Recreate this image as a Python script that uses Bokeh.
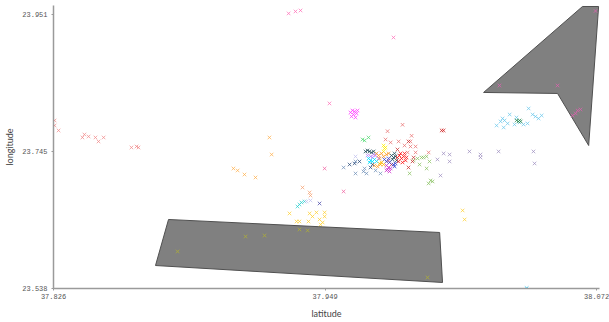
from bokeh.plotting import figure
from bokeh.models import Range1d, FixedTicker, NumeralTickFormatter
from bokeh.embed import file_html
from bokeh.resources import INLINE

# axis ticks
x_ticks = [37.826, 37.949, 38.072]
y_ticks = [23.538, 23.745, 23.951]

# shaded zones (latitude, longitude)
zone1_x = [37.8781, 38.0009, 38.0022, 37.8722]
zone1_y = [23.6422, 23.6226, 23.5471, 23.5727]
zone2_x = [38.0656, 38.0729, 38.0684, 38.0543, 38.0208]
zone2_y = [23.9638, 23.9638, 23.7539, 23.8325, 23.8340]

# point groups
salmon_x = [37.8265, 37.8265, 37.8283, 37.8391, 37.8400, 37.8419, 37.8450, 37.8464, 37.8487, 37.8613, 37.8636, 37.8645]
salmon_y = [23.7917, 23.7841, 23.7766, 23.7660, 23.7705, 23.7675, 23.7660, 23.7600, 23.7660, 23.7509, 23.7524, 23.7509]

orange_x = [37.9238, 37.9248, 37.9075, 37.9094, 37.9125, 37.9175]
orange_y = [23.7660, 23.7403, 23.7192, 23.7162, 23.7101, 23.7056]

peach_x = [37.9388, 37.9420, 37.9424]
peach_y = [23.6905, 23.6830, 23.6784]

pink_x = [37.9325, 37.9356, 37.9379, 37.9800, 37.9510]
pink_y = [23.9533, 23.9563, 23.9578, 23.9170, 23.8174]

magenta_x = [37.9605, 37.9614, 37.9624, 37.9633, 37.9610, 37.9628, 37.9619, 37.9637]
magenta_y = [23.8038, 23.8068, 23.8053, 23.8023, 23.7977, 23.7962, 23.8007, 23.8068]

orchid_x = [38.0715, 38.0280, 38.0543, 38.0611, 38.0625, 38.0634, 38.0647]
orchid_y = [23.9570, 23.8445, 23.8445, 23.7992, 23.8023, 23.8068, 23.8083]

sky_x = [38.0412, 38.0430, 38.0443, 38.0457, 38.0471, 38.0326, 38.0294, 38.0267, 38.0285,
         38.0303, 38.0317, 38.0348, 38.0371, 38.0389, 38.0407, 38.0299, 38.0357]
sky_y = [23.8098, 23.8007, 23.7977, 23.7947, 23.7992, 23.8007, 23.7947, 23.7841, 23.7902,
         23.7917, 23.7872, 23.7856, 23.7887, 23.7856, 23.7872, 23.7811, 23.7962]

deepsky_x = [38.0403]
deepsky_y = [23.5385]

green_x = [38.0357, 38.0366, 38.0376, 38.0371]
green_y = [23.7917, 23.7902, 23.7902, 23.7917]

darkred_x = [38.0018, 38.0027]
darkred_y = [23.7766, 23.7766]

lavgray_x = [38.0027, 38.0054, 38.0054, 37.9999, 38.0144, 38.0194, 38.0194, 38.0276, 38.0434, 38.0439, 38.0013]
lavgray_y = [23.7419, 23.7403, 23.7298, 23.7328, 23.7449, 23.7403, 23.7358, 23.7449, 23.7449, 23.7268, 23.7086]

lgreen_x = [37.9927, 37.9936, 37.9950, 37.9909, 37.9891, 37.9963, 37.9950, 37.9918, 37.9873, 37.9968, 37.9959, 37.9977]
lgreen_y = [23.7358, 23.7358, 23.7373, 23.7343, 23.7313, 23.7298, 23.7192, 23.7252, 23.7117, 23.7011, 23.6966, 23.6996]

mint_x = [37.9660, 37.9669, 37.9687]
mint_y = [23.7630, 23.7615, 23.7660]

yellow_x = [37.9755, 37.9759, 37.9755, 37.9764]
yellow_y = [23.7539, 23.7494, 23.7449, 23.7509]

gold_x = [37.9329, 37.9361, 37.9374, 37.9415, 37.9420, 37.9433, 37.9451, 37.9465, 37.9470,
          37.9479, 37.9488, 37.9488, 38.0113, 38.0122]
gold_y = [23.6513, 23.6392, 23.6392, 23.6392, 23.6513, 23.6467, 23.6528, 23.6422, 23.6346,
          23.6377, 23.6467, 23.6528, 23.6558, 23.6422]

olive_x = [37.8822, 37.9130, 37.9216, 37.9374, 37.9411, 37.9954]
olive_y = [23.5939, 23.6165, 23.6180, 23.6271, 23.6256, 23.5546]

turq_x = [37.9374, 37.9383, 37.9397, 37.9365]
turq_y = [23.6648, 23.6679, 23.6694, 23.6618]

palelav_x = [37.9406, 37.9424, 37.9628]
palelav_y = [23.6694, 23.6709, 23.7373]

slate_x = [37.9465]
slate_y = [23.6664]

hotpink_x = [37.9574, 37.9488]
hotpink_y = [23.6845, 23.7192]

navy_x = [37.9601, 37.9624, 37.9646, 37.9705, 37.9696]
navy_y = [23.7252, 23.7268, 23.7298, 23.7252, 23.7207]

steel_x = [37.9574, 37.9628, 37.9664, 37.9678, 37.9741, 37.9669, 37.9719, 37.9628]
steel_y = [23.7207, 23.7117, 23.7147, 23.7117, 23.7117, 23.7192, 23.7162, 23.7298]

dslate_x = [37.9673, 37.9682, 37.9691, 37.9701, 37.9710, 37.9791, 37.9800, 37.9809, 37.9796, 37.9814, 37.9805]
dslate_y = [23.7449, 23.7464, 23.7449, 23.7434, 23.7449, 23.7388, 23.7358, 23.7373, 23.7328, 23.7313, 23.7419]

red_x = [37.9818, 37.9827, 37.9836, 37.9846, 37.9855, 37.9823, 37.9841, 37.9832, 37.9850, 37.9859]
red_y = [23.7358, 23.7388, 23.7343, 23.7373, 23.7313, 23.7298, 23.7283, 23.7419, 23.7419, 23.7358]

lred_x = [37.9841, 37.9773, 37.9882, 37.9823, 37.9877, 37.9787, 37.9850, 37.9900, 37.9864,
          37.9900, 37.9959, 37.9778, 37.9877, 37.9764]
lred_y = [23.7852, 23.7755, 23.7686, 23.7600, 23.7600, 23.7585, 23.7539, 23.7524, 23.7434,
          23.7434, 23.7434, 23.7313, 23.7524, 23.7630]

mred_x = [37.9868, 37.9891, 37.9886, 37.9868, 37.9791, 37.9818]
mred_y = [23.7600, 23.7358, 23.7298, 23.7207, 23.7252, 23.7479]

cyan_x = [37.9687, 37.9696, 37.9705, 37.9714, 37.9691, 37.9723]
cyan_y = [23.7343, 23.7313, 23.7298, 23.7328, 23.7283, 23.7298]

violet_x = [37.9682, 37.9696, 37.9705, 37.9719, 37.9732, 37.9710]
violet_y = [23.7388, 23.7373, 23.7358, 23.7388, 23.7343, 23.7403]

borange_x = [37.9723, 37.9732, 37.9746, 37.9755, 37.9737, 37.9768, 37.9714, 37.9728, 37.9741, 37.9778]
borange_y = [23.7419, 23.7388, 23.7419, 23.7373, 23.7343, 23.7403, 23.7237, 23.7222, 23.7252, 23.7419]

blue_x = [37.9759, 37.9768, 37.9778, 37.9782, 37.9800, 37.9809, 37.9805]
blue_y = [23.7328, 23.7298, 23.7343, 23.7283, 23.7252, 23.7268, 23.7222]

purple_x = [37.9768, 37.9778, 37.9773, 37.9787, 37.9782, 37.9768]
purple_y = [23.7237, 23.7207, 23.7177, 23.7192, 23.7147, 23.7162]

amber_x = [37.9746, 37.9755, 37.9737]
amber_y = [23.7283, 23.7252, 23.7268]

groups = [
    (salmon_x, salmon_y, "#f08a8a"),
    (orange_x, orange_y, "#ffb04d"),
    (peach_x, peach_y, "#f4a070"),
    (pink_x, pink_y, "#ff70b8"),
    (magenta_x, magenta_y, "#ff40ff"),
    (orchid_x, orchid_y, "#e060b0"),
    (sky_x, sky_y, "#6cc8ec"),
    (deepsky_x, deepsky_y, "#00b8f0"),
    (green_x, green_y, "#2e8b57"),
    (darkred_x, darkred_y, "#d02020"),
    (lavgray_x, lavgray_y, "#9f90c0"),
    (lgreen_x, lgreen_y, "#88c060"),
    (mint_x, mint_y, "#50d870"),
    (yellow_x, yellow_y, "#ffee00"),
    (gold_x, gold_y, "#ffd030"),
    (olive_x, olive_y, "#b0b030"),
    (turq_x, turq_y, "#30d0d0"),
    (palelav_x, palelav_y, "#c0c0ee"),
    (slate_x, slate_y, "#4848a8"),
    (hotpink_x, hotpink_y, "#f060a0"),
    (steel_x, steel_y, "#7090b8"),
    (navy_x, navy_y, "#2a4a7a"),
    (lred_x, lred_y, "#e87070"),
    (mred_x, mred_y, "#c83030"),
    (violet_x, violet_y, "#c080ff"),
    (borange_x, borange_y, "#ff9a20"),
    (cyan_x, cyan_y, "#00e0ff"),
    (dslate_x, dslate_y, "#1f4a55"),
    (blue_x, blue_y, "#3040d0"),
    (purple_x, purple_y, "#cc30cc"),
    (amber_x, amber_y, "#ffbb00"),
    (red_x, red_y, "#ff1010"),
]

p = figure(width=609, height=322, output_backend="svg", toolbar_location=None,
           x_range=Range1d(37.826, 38.0733), y_range=Range1d(23.538, 23.9653),
           min_border_left=53, min_border_right=10, min_border_top=5, min_border_bottom=34)
p.outline_line_color = None
p.grid.visible = False
p.background_fill_color = "white"
p.border_fill_color = "white"

p.patch(zone1_x, zone1_y, fill_color="#808080", line_color="#505050", line_width=1)
p.patch(zone2_x, zone2_y, fill_color="#808080", line_color="#505050", line_width=1)

for gx, gy, col in groups:
    p.scatter(gx, gy, marker="x", size=5, line_color=col, line_width=1, line_alpha=0.75)

for ax in (p.xaxis[0], p.yaxis[0]):
    ax.axis_line_color = "#9a9a9a"
    ax.axis_line_width = 1.5
    ax.major_tick_line_color = "#9a9a9a"
    ax.major_tick_out = 2
    ax.major_tick_in = 0
    ax.minor_tick_line_color = None
    ax.major_label_text_font = "Liberation Mono"
    ax.major_label_text_font_size = "7px"
    ax.major_label_text_color = "#555555"
    ax.axis_label_text_font = "Lato"
    ax.axis_label_text_font_size = "9px"
    ax.axis_label_text_font_style = "normal"
    ax.axis_label_text_color = "#444444"
    ax.formatter = NumeralTickFormatter(format="0.000")

p.xaxis.ticker = FixedTicker(ticks=x_ticks)
p.yaxis.ticker = FixedTicker(ticks=y_ticks)
p.xaxis.axis_label = "latitude"
p.yaxis.axis_label = "longitude"
p.xaxis.major_label_standoff = 3
p.xaxis.axis_label_standoff = 6
p.yaxis.major_label_standoff = 4
p.yaxis.axis_label_standoff = 4

open("out.html", "w").write(file_html(p, INLINE))
